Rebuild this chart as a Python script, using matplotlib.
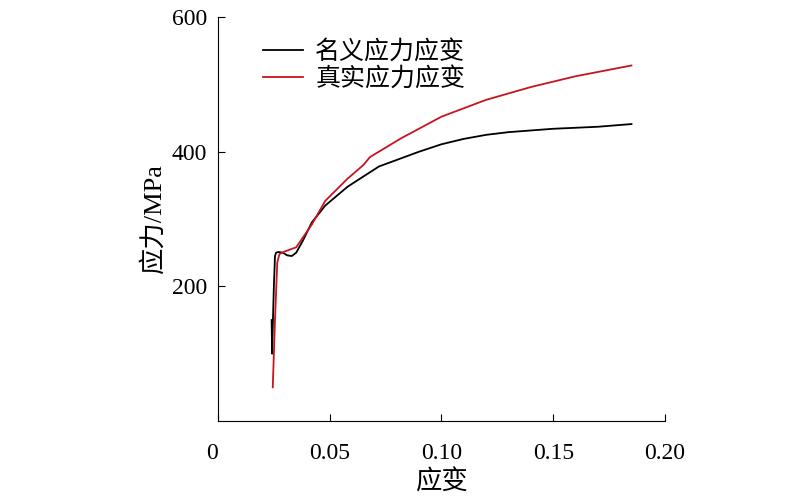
import matplotlib
matplotlib.use("Agg")
import matplotlib.pyplot as plt

plt.rcParams['font.family'] = ['Liberation Serif', 'Noto Sans CJK SC']

# nominal stress-strain
nom_x = [0.0240, 0.0242, 0.0245, 0.0250, 0.0255, 0.0260, 0.0270, 0.0290, 0.0310, 0.0330, 0.0350,
         0.0380, 0.0420, 0.0480, 0.0580, 0.0720, 0.0900, 0.1000, 0.1100, 0.1200, 0.1300, 0.1500,
         0.1700, 0.1850]
nom_y = [150, 100, 140, 200, 245, 250, 251, 250, 246, 245, 250,
         268, 295, 320, 348, 378, 400, 411, 419, 425, 429, 434, 437, 441]
# true stress-strain
tru_x = [0.0245, 0.0255, 0.0265, 0.0275, 0.0300, 0.0350, 0.0420, 0.0480, 0.0580, 0.0650, 0.0680,
         0.0820, 0.1000, 0.1200, 0.1400, 0.1600, 0.1850]
tru_y = [50, 150, 235, 248, 252, 258, 292, 327, 360, 380, 392,
         420, 452, 477, 496, 512, 528]

fig = plt.figure(figsize=(8.12, 5.0), dpi=100)
ax = fig.add_axes([218 / 812, 79 / 500, 447 / 812, 404 / 500])
ax.plot(nom_x, nom_y, color='black', lw=1.3, label='名义应力应变')
ax.plot(tru_x, tru_y, color='#c8141e', lw=1.3, label='真实应力应变')
ax.set_xlim(0, 0.20)
ax.set_ylim(0, 600)
ax.set_xticks([0, 0.05, 0.10, 0.15, 0.20])
ax.set_xticklabels(['0', '0.05', '0.10', '0.15', '0.20'])
ax.get_xticklabels()[0].set_ha('right')
ax.set_yticks([200, 400, 600])
ax.tick_params(direction='in', labelsize=17, length=5)
ax.tick_params(axis='x', pad=16)
ax.tick_params(axis='y', pad=8)
ax.spines['top'].set_visible(False)
ax.spines['right'].set_visible(False)
ax.set_xlabel('应变', fontsize=19, labelpad=4)
ax.set_ylabel('应力/MPa', fontsize=19)
ax.legend(loc='upper left', bbox_to_anchor=(0.05, 1.0), frameon=False, fontsize=18,
          handlelength=1.6, handletextpad=0.5, labelspacing=0.15)
fig.savefig('out.png')
